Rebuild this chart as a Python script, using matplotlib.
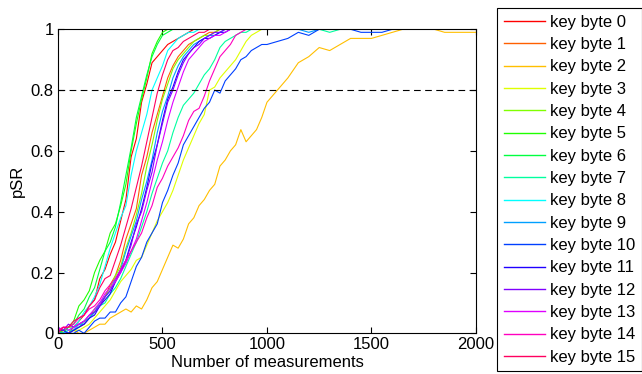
import numpy as np
import matplotlib
matplotlib.use('Agg')
import matplotlib.pyplot as plt
import colorsys

plt.rcParams['font.family'] = ['Liberation Sans', 'DejaVu Sans']

# measurement counts: every 25 up to 975, then every 50 up to 2000
x_fine = list(range(0, 1000, 25))
x_tail = list(range(1000, 2001, 50))
x = np.array(x_fine + x_tail)

ONE_TAIL = [1.0] * 21

# pSR for each key byte (40 fine values + 21 tail values)
kb0 = [0.0, 0.01, 0.0, 0.02, 0.04, 0.06, 0.09, 0.11, 0.18, 0.21, 0.26, 0.30, 0.37, 0.44, 0.58, 0.64, 0.76, 0.82, 0.89, 0.91,
       0.93, 0.95, 0.96, 0.97, 0.98, 0.99, 1.0, 1.0, 1.0, 1.0, 1.0, 1.0, 1.0, 1.0, 1.0, 1.0, 1.0, 1.0, 1.0, 1.0] + ONE_TAIL
kb1 = [0.0, 0.01, 0.0, 0.01, 0.02, 0.03, 0.05, 0.07, 0.09, 0.12, 0.16, 0.19, 0.24, 0.31, 0.36, 0.41, 0.52, 0.58, 0.66, 0.72,
       0.78, 0.84, 0.88, 0.91, 0.93, 0.95, 0.96, 0.97, 0.98, 0.99, 0.99, 1.0, 1.0, 1.0, 1.0, 1.0, 1.0, 1.0, 1.0, 1.0] + ONE_TAIL
kb2 = [0.0, 0.0, 0.0, 0.01, 0.0, 0.0, 0.01, 0.02, 0.03, 0.03, 0.05, 0.06, 0.07, 0.08, 0.07, 0.09, 0.08, 0.11, 0.15, 0.17,
       0.21, 0.25, 0.29, 0.28, 0.31, 0.36, 0.38, 0.42, 0.44, 0.47, 0.49, 0.55, 0.57, 0.60, 0.62, 0.67, 0.63, 0.65, 0.67, 0.71,
       0.76, 0.80, 0.84, 0.89, 0.91, 0.94, 0.93, 0.95, 0.97, 0.97, 0.97, 0.98, 0.99, 1.0, 1.0, 1.0, 1.0, 0.99, 0.99, 0.99, 0.99]
kb3 = [0.0, 0.0, 0.0, 0.01, 0.01, 0.02, 0.03, 0.05, 0.07, 0.09, 0.11, 0.14, 0.17, 0.19, 0.21, 0.24, 0.25, 0.29, 0.33, 0.37,
       0.40, 0.43, 0.47, 0.52, 0.57, 0.61, 0.65, 0.69, 0.72, 0.80, 0.81, 0.84, 0.86, 0.88, 0.90, 0.93, 0.96, 0.98, 0.99, 1.0] + ONE_TAIL
kb4 = [0.0, 0.01, 0.02, 0.02, 0.03, 0.04, 0.05, 0.08, 0.10, 0.12, 0.15, 0.19, 0.22, 0.28, 0.33, 0.39, 0.46, 0.55, 0.62, 0.70,
       0.77, 0.82, 0.87, 0.90, 0.92, 0.94, 0.96, 0.97, 0.98, 0.98, 0.99, 1.0, 1.0, 1.0, 1.0, 1.0, 1.0, 1.0, 1.0, 1.0] + ONE_TAIL
kb5 = [0.0, 0.01, 0.02, 0.04, 0.09, 0.11, 0.14, 0.20, 0.24, 0.27, 0.33, 0.36, 0.42, 0.49, 0.60, 0.69, 0.77, 0.84, 0.92, 0.96,
       0.99, 1.0, 1.0, 1.0, 1.0, 1.0, 1.0, 1.0, 1.0, 1.0, 1.0, 1.0, 1.0, 1.0, 1.0, 1.0, 1.0, 1.0, 1.0, 1.0] + ONE_TAIL
kb6 = [0.01, 0.0, 0.02, 0.03, 0.06, 0.08, 0.12, 0.15, 0.21, 0.27, 0.30, 0.35, 0.43, 0.52, 0.61, 0.71, 0.78, 0.85, 0.91, 0.95,
       0.98, 0.99, 1.0, 1.0, 1.0, 1.0, 1.0, 1.0, 1.0, 1.0, 1.0, 1.0, 1.0, 1.0, 1.0, 1.0, 1.0, 1.0, 1.0, 1.0] + ONE_TAIL
kb7 = [0.0, 0.0, 0.01, 0.01, 0.02, 0.04, 0.05, 0.07, 0.09, 0.10, 0.13, 0.15, 0.18, 0.22, 0.26, 0.30, 0.35, 0.40, 0.46, 0.51,
       0.56, 0.60, 0.66, 0.71, 0.75, 0.77, 0.79, 0.82, 0.85, 0.87, 0.90, 0.94, 0.96, 0.97, 0.98, 0.99, 0.99, 1.0, 1.0, 1.0,
       1.0, 1.0, 1.0, 1.0, 1.0, 1.0, 0.99, 1.0, 1.0, 1.0, 1.0, 1.0, 1.0, 1.0, 1.0, 1.0, 1.0, 1.0, 1.0, 1.0, 1.0]
kb8 = [0.0, 0.0, 0.01, 0.02, 0.04, 0.07, 0.09, 0.12, 0.16, 0.22, 0.28, 0.33, 0.38, 0.42, 0.52, 0.60, 0.66, 0.72, 0.80, 0.84,
       0.88, 0.93, 0.95, 0.97, 0.98, 0.99, 0.99, 1.0, 1.0, 1.0, 1.0, 1.0, 1.0, 1.0, 1.0, 1.0, 1.0, 1.0, 1.0, 1.0] + ONE_TAIL
kb9 = [0.0, 0.0, 0.0, 0.01, 0.03, 0.03, 0.05, 0.07, 0.10, 0.12, 0.14, 0.18, 0.21, 0.27, 0.32, 0.37, 0.44, 0.50, 0.57, 0.66,
       0.73, 0.78, 0.84, 0.88, 0.91, 0.93, 0.95, 0.96, 0.97, 0.98, 0.98, 0.99, 1.0, 1.0, 1.0, 1.0, 1.0, 1.0, 1.0, 1.0,
       1.0, 1.0, 1.0, 1.0, 0.99, 1.0, 1.0, 1.0, 1.0, 1.0, 1.0, 1.0, 1.0, 1.0, 1.0, 1.0, 1.0, 1.0, 1.0, 1.0, 1.0]
kb10 = [0.0, 0.0, 0.0, 0.0, 0.01, 0.0, 0.02, 0.04, 0.05, 0.05, 0.07, 0.07, 0.10, 0.12, 0.17, 0.22, 0.25, 0.30, 0.33, 0.36,
        0.43, 0.47, 0.52, 0.56, 0.62, 0.65, 0.68, 0.71, 0.74, 0.76, 0.80, 0.79, 0.83, 0.85, 0.87, 0.90, 0.91, 0.93, 0.94, 0.95,
        0.95, 0.96, 0.97, 0.99, 0.98, 1.0, 1.0, 1.0, 1.0, 0.99, 0.99, 0.99, 1.0, 1.0, 1.0, 1.0, 1.0, 1.0, 1.0, 1.0, 1.0]
kb11 = [0.01, 0.01, 0.0, 0.01, 0.02, 0.03, 0.05, 0.06, 0.09, 0.11, 0.13, 0.17, 0.20, 0.24, 0.30, 0.35, 0.41, 0.48, 0.56, 0.62,
        0.70, 0.77, 0.81, 0.86, 0.90, 0.92, 0.94, 0.96, 0.97, 0.97, 0.98, 0.99, 0.99, 1.0, 1.0, 1.0, 1.0, 1.0, 1.0, 1.0] + ONE_TAIL
kb12 = [0.02, 0.01, 0.03, 0.02, 0.03, 0.04, 0.06, 0.07, 0.09, 0.12, 0.14, 0.17, 0.21, 0.24, 0.29, 0.36, 0.40, 0.47, 0.53, 0.62,
        0.69, 0.76, 0.80, 0.85, 0.89, 0.92, 0.94, 0.95, 0.97, 0.98, 0.99, 0.99, 1.0, 1.0, 1.0, 1.0, 1.0, 1.0, 1.0, 1.0] + ONE_TAIL
kb13 = [0.01, 0.02, 0.01, 0.02, 0.03, 0.04, 0.06, 0.08, 0.10, 0.13, 0.15, 0.17, 0.20, 0.23, 0.27, 0.31, 0.37, 0.43, 0.50, 0.57,
        0.63, 0.70, 0.76, 0.81, 0.86, 0.90, 0.92, 0.94, 0.96, 0.97, 0.98, 0.98, 0.99, 1.0, 1.0, 1.0, 1.0, 1.0, 1.0, 1.0] + ONE_TAIL
kb14 = [0.01, 0.02, 0.02, 0.03, 0.05, 0.06, 0.08, 0.09, 0.11, 0.14, 0.16, 0.18, 0.21, 0.24, 0.27, 0.30, 0.33, 0.38, 0.42, 0.48,
        0.51, 0.55, 0.58, 0.61, 0.65, 0.70, 0.73, 0.74, 0.78, 0.83, 0.87, 0.91, 0.93, 0.95, 0.98, 0.99, 1.0, 1.0, 1.0, 1.0] + ONE_TAIL
kb15 = [0.0, 0.02, 0.02, 0.04, 0.05, 0.06, 0.09, 0.11, 0.15, 0.18, 0.19, 0.24, 0.29, 0.35, 0.41, 0.48, 0.55, 0.63, 0.71, 0.79,
        0.85, 0.90, 0.93, 0.94, 0.96, 0.97, 0.98, 0.99, 0.99, 1.0, 1.0, 1.0, 1.0, 1.0, 1.0, 1.0, 1.0, 1.0, 1.0, 1.0] + ONE_TAIL

series = [kb0, kb1, kb2, kb3, kb4, kb5, kb6, kb7, kb8, kb9, kb10, kb11, kb12, kb13, kb14, kb15]
labels = ['key byte %d' % i for i in range(16)]
threshold = 0.8

fig = plt.figure(figsize=(6.42, 3.74), dpi=100)
ax = fig.add_axes([0.0903, 0.1088, 0.6511, 0.8129])

n = len(series)
for i, y in enumerate(series):
    col = colorsys.hsv_to_rgb(i / n, 1.0, 1.0)
    ax.plot(x, y, color=col, lw=0.8, label=labels[i])

ax.axhline(threshold, color='black', ls=(0, (6, 4)), lw=0.8)

ax.set_xlim(0, 2000)
ax.set_ylim(0, 1)
ax.set_xticks([0, 500, 1000, 1500, 2000])
ax.set_yticks([0, 0.2, 0.4, 0.6, 0.8, 1])
ax.set_yticklabels(['0', '0.2', '0.4', '0.6', '0.8', '1'])
ax.tick_params(direction='in', top=True, right=True, labelsize=12, length=4, pad=3)
for s in ax.spines.values():
    s.set_linewidth(0.8)
ax.set_xlabel('Number of measurements', fontsize=12, labelpad=1.5)
ax.set_ylabel('pSR', fontsize=12, labelpad=4)

leg = fig.legend(loc='upper left', bbox_to_anchor=(497 / 642, 1 - 8 / 374), fontsize=12,
                 handlelength=2.5, handletextpad=0.25, labelspacing=0.44, borderpad=0.4,
                 fancybox=False, framealpha=1, edgecolor='black', borderaxespad=0)
leg.get_frame().set_linewidth(0.8)
for h in leg.get_lines():
    h.set_linewidth(1.0)

fig.savefig('out.png', dpi=100)
